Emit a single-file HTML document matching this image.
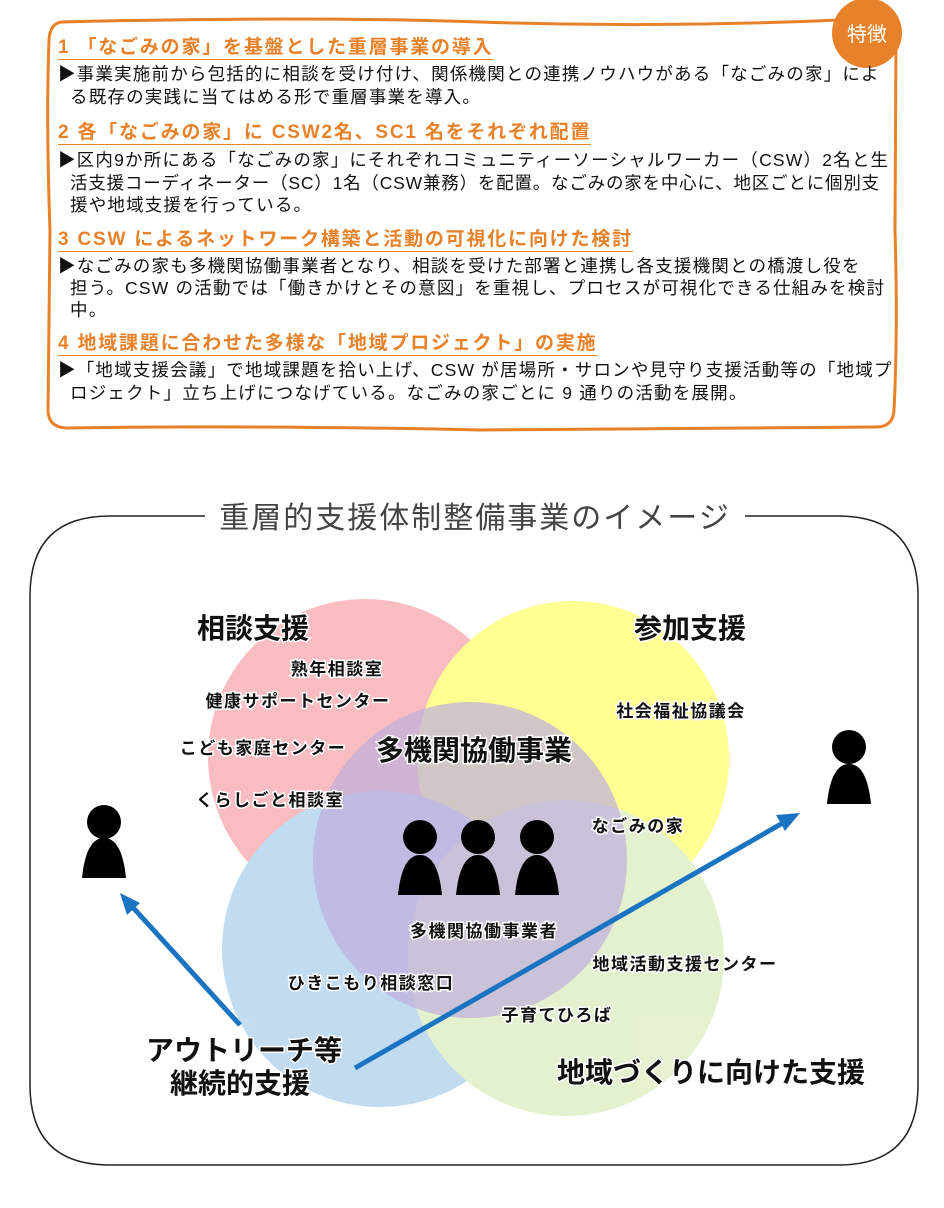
<!DOCTYPE html>
<html><head><meta charset="utf-8">
<style>
body{margin:0;background:#fff;width:944px;height:1208px;position:relative;overflow:hidden;font-family:"Liberation Sans","Noto Sans CJK JP",sans-serif;}
.t{position:absolute;white-space:nowrap;}
.h{color:#e8822a;font-size:19px;font-weight:bold;border-bottom:1.5px solid #e8822a;line-height:20px;padding-bottom:1px;letter-spacing:1.8px;}
.b{color:#111;font-size:17.5px;line-height:22.5px;letter-spacing:1.2px;}
</style></head><body>
<svg width="944" height="1208" style="position:absolute;left:0;top:0">
<path d="M62,22 Q300,16 480,22 T840,20 L880,22 Q896,24 896,40 L895,230 Q898,330 894,410 Q893,427 876,427 L480,430 Q250,425 66,428 Q48,427 48,410 L50,230 Q46,120 49,40 Q50,23 62,22 Z" fill="none" stroke="#e8822a" stroke-width="3"/>
<circle cx="867" cy="33" r="35" fill="#e8822a"/>
<text x="867" y="41" font-size="20" fill="#fff" text-anchor="middle" font-family="Liberation Sans,Noto Sans CJK JP,sans-serif">特徴</text>

<path d="M205,516 L110,516 Q30,516 30,596 L30,1085 Q30,1165 110,1165 L838,1165 Q918,1165 918,1085 L918,596 Q918,516 838,516 L745,516" fill="none" stroke="#222" stroke-width="1.5"/>
<text x="475" y="528" font-size="30" letter-spacing="2" fill="#444" text-anchor="middle" font-family="Liberation Sans,Noto Sans CJK JP,sans-serif">重層的支援体制整備事業のイメージ</text>

<g opacity="0.55">
<ellipse cx="365" cy="757" rx="157" ry="158" fill="#f4868f"/>
<ellipse cx="573" cy="759" rx="156" ry="158" fill="#ffff3a"/>
<ellipse cx="380" cy="949" rx="158" ry="158" fill="#8fc0e6"/>
<ellipse cx="566" cy="958" rx="158" ry="158" fill="#cfe6a8"/>
<ellipse cx="470" cy="860" rx="157" ry="158" fill="#8a6cc0" opacity="0.7"/>
</g>

<g fill="#000">
<circle cx="104" cy="822" r="17"/><path d="M82,878 Q86,838 104,838 Q122,838 126,878 Z"/>
<circle cx="849" cy="747" r="17"/><path d="M827,804 Q831,764 849,764 Q867,764 871,804 Z"/>
<circle cx="420" cy="837" r="17"/><path d="M398,895 Q402,855 420,855 Q438,855 442,895 Z"/>
<circle cx="478" cy="837" r="17"/><path d="M456,895 Q460,855 478,855 Q496,855 500,895 Z"/>
<circle cx="537" cy="837" r="17"/><path d="M515,895 Q519,855 537,855 Q555,855 559,895 Z"/>
</g>

<g stroke="#1b74c2" stroke-width="5" fill="#1b74c2">
<line x1="240" y1="1025" x2="128" y2="902"/>
<polygon points="120,893 140,903 127,915" stroke="none"/>
<line x1="355" y1="1068" x2="788" y2="820"/>
<polygon points="800,813 785,831 776,815" stroke="none"/>
</g>

<g font-family="Liberation Sans,Noto Sans CJK JP,sans-serif" font-weight="bold" text-anchor="middle" fill="#111" stroke="#fff" stroke-width="3" paint-order="stroke">
<text x="253" y="638" font-size="28">相談支援</text>
<text x="690" y="638" font-size="28">参加支援</text>
<g font-size="17" letter-spacing="1.5">
<text x="337" y="675">熟年相談室</text>
<text x="298" y="707">健康サポートセンター</text>
<text x="263" y="754">こども家庭センター</text>
<text x="270" y="806">くらしごと相談室</text>
<text x="681" y="717">社会福祉協議会</text>
<text x="638" y="832">なごみの家</text>
<text x="484" y="937">多機関協働事業者</text>
<text x="685" y="970">地域活動支援センター</text>
<text x="371" y="989">ひきこもり相談窓口</text>
<text x="557" y="1021">子育てひろば</text>
</g>
<text x="474" y="760" font-size="28">多機関協働事業</text>
<text x="711" y="1082" font-size="28">地域づくりに向けた支援</text>
<text x="244" y="1060" font-size="28">アウトリーチ等</text>
<text x="240" y="1093" font-size="28">継続的支援</text>
</g>
</svg>

<div class="t h" style="left:58px;top:38px">1 「なごみの家」を基盤とした重層事業の導入</div>
<div class="t b" style="left:58px;top:63px">▶事業実施前から包括的に相談を受け付け、関係機関との連携ノウハウがある「なごみの家」によ</div>
<div class="t b" style="left:70px;top:86px">る既存の実践に当てはめる形で重層事業を導入。</div>

<div class="t h" style="left:58px;top:123px">2 各「なごみの家」に CSW2名、SC1 名をそれぞれ配置</div>
<div class="t b" style="left:58px;top:149px">▶区内9か所にある「なごみの家」にそれぞれコミュニティーソーシャルワーカー（CSW）2名と生</div>
<div class="t b" style="left:70px;top:172px;letter-spacing:0.8px">活支援コーディネーター（SC）1名（CSW兼務）を配置。なごみの家を中心に、地区ごとに個別支</div>
<div class="t b" style="left:70px;top:194px">援や地域支援を行っている。</div>

<div class="t h" style="left:58px;top:230px">3 CSW によるネットワーク構築と活動の可視化に向けた検討</div>
<div class="t b" style="left:58px;top:255px">▶なごみの家も多機関協働事業者となり、相談を受けた部署と連携し各支援機関との橋渡し役を</div>
<div class="t b" style="left:70px;top:277px">担う。CSW の活動では「働きかけとその意図」を重視し、プロセスが可視化できる仕組みを検討</div>
<div class="t b" style="left:70px;top:299px">中。</div>

<div class="t h" style="left:58px;top:334px">4 地域課題に合わせた多様な「地域プロジェクト」の実施</div>
<div class="t b" style="left:58px;top:359px">▶「地域支援会議」で地域課題を拾い上げ、CSW が居場所・サロンや見守り支援活動等の「地域プ</div>
<div class="t b" style="left:70px;top:382px">ロジェクト」立ち上げにつなげている。なごみの家ごとに 9 通りの活動を展開。</div>
</body></html>
